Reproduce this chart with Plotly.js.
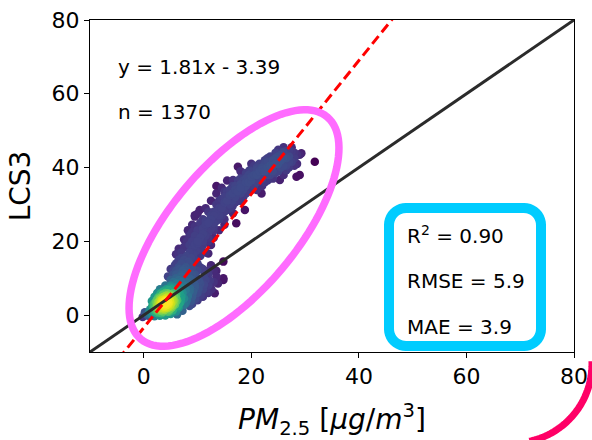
<!DOCTYPE html>
<html>
<head>
<meta charset="utf-8">
<script src="https://cdn.plot.ly/plotly-3.0.1.min.js"></script>
<style>html,body{margin:0;padding:0;background:#fff;}#chart{width:592px;height:440px;}</style>
</head>
<body>
<div id="chart"></div>
<script>
// Reference PM2.5 (x) and LCS3 (y) readings
const pmRef = [
 2.0,2.5,3.0,3.5,4.0,4.5,3.0,3.5,4.0,4.5,2.5,3.2,3.8,4.2,5.0,5.5,5.0,4.0,3.5,5.2,4.8,2.8,3.6,4.4,5.8,6.0,5.5,4.6,3.0,2.2,1.8,3.3,4.1,4.7,3.9,2.6,5.3,4.3,3.7,2.9,4.9,3.4,4.6,5.6,
 1.0,1.5,0.5,-0.2,0.2,1.2,1.6,2.0,2.4,1.0,0.8,2.0,3.0,4.0,5.0,6.0,6.5,6.8,7.0,6.5,6.0,5.0,4.0,3.0,2.5,2.0,1.5,6.2,7.2,7.5,
 3.1,3.9,4.3,2.7,3.5,4.1,4.8,5.1,3.3,2.4,
 3.1,3.4,3.7,4.0,4.3,4.6,4.9,5.1,3.6,3.2,2.9,2.6,2.3,2.7,3.9,4.5,5.0,5.4,5.7,5.2,4.7,4.1,3.5,3.8,4.3,4.8,4.4,3.9,3.3,2.8,
 3.0,3.6,4.2,4.7,5.3,5.6,4.0,3.4,4.6,5.0,4.1,3.5,3.0,2.6,4.9,4.4,3.8,5.9,6.2,6.0,
 2.1,1.7,1.3,0.9,2.4,3.3,4.7,5.4,6.3,6.6,6.9,6.7,5.8,5.2,4.2,3.6,3.1,2.7,2.3,1.9,
 5.0,5.5,6.0,6.5,7.0,7.5,8.0,8.5,9.0,9.5,10.0,6.0,7.0,8.0,9.0,10.0,7.0,8.0,9.0,6.5,7.0,7.5,8.0,8.5,9.0,9.5,10.0,11.0,11.0,11.5,12.0,10.5,9.5,8.5,7.5,6.2,5.8,6.0,6.5,7.5,8.2,4.5,5.0,10.5,11.0,11.5,12.0,12.5,13.0,12.5,10.0,9.5,10.4,6.4,9.5,
 6.0,6.5,7.0,7.5,6.0,5.5,5.0,6.8,7.5,8.0,8.5,7.8,7.2,6.6,8.3,8.8,9.2,9.8,7.0,6.0,5.5,9.0,9.5,10.0,10.5,7.8,8.6,9.5,10.3,11.2,6.2,7.2,
 13.0,13.5,14.0,14.5,15.0,15.5,16.0,16.5,17.0,17.5,18.0,18.5,19.0,19.5,20.0,20.5,21.0,21.5,22.0,22.5,23.0,23.5,24.0,24.5,25.0,25.5,26.0,26.5,27.0,27.5,28.0,28.5,29.0,29.3,
 13.5,14.5,15.0,16.0,16.6,17.0,18.0,19.0,20.0,21.0,22.0,23.0,24.0,25.3,26.5,28.4,29.0,24.7,27.5,22.5,21.9,18.8,17.2,14.0,13.0,12.0,11.5,12.5,13.5,15.5,16.6,19.7,22.8,25.9,18.0,20.0,17.5,31.8,
 15.0,16.5,18.0,19.0,21.0,23.0,24.5,26.0,27.0,25.0,26.0,27.5,
 10.5,11.0,11.5,12.0,12.5,13.0,13.5,14.0,14.5,15.0,15.5,16.0,16.5,17.0,17.5,18.0,18.5,19.0,19.5,20.0,20.5,21.0,21.5,22.0,22.5,23.0,23.5,24.0,24.5,25.0,25.5,26.0,26.5,27.0,27.5,28.0,
 12.0,12.5,13.0,13.5,14.0,14.5,15.0,15.5,16.0,16.5,17.0,17.5,18.0,18.5,19.0,19.5,20.0,20.5,21.0,21.5,22.0,22.5,23.0,23.5,24.0,24.5,25.0,25.5,26.0,26.5,27.0,28.0,28.5,
 11.0,11.5,10.5,10.0,9.5,9.0,8.5,9.0,8.8,12.0,13.0,14.0,15.0,
 8.0,9.0,10.0,11.0,12.0,13.0,8.5,9.5,10.5,11.5,9.0,10.0,11.0,12.0,13.2,13.8,14.8,14.8,12.0,10.0,8.0,7.0,7.5,8.5,13.0,11.0,12.5,13.5,14.8,
 9.2,10.2,11.2,12.3,9.6,10.6,11.6,8.2,7.8,8.8,12.6,13.5,12.2,11.4
];
const lcs3 = [
 1.0,1.5,2.0,2.5,3.0,3.5,3.0,4.0,4.5,5.0,2.5,1.2,1.8,2.2,3.0,4.0,5.0,6.0,5.5,2.0,1.5,0.8,0.9,1.0,2.8,4.5,6.0,6.8,4.6,2.2,1.8,3.3,3.8,4.2,2.6,3.4,3.5,5.4,3.2,2.4,2.6,1.6,2.9,3.2,
 0.5,0.2,0.3,-0.5,0.8,1.6,2.6,3.2,4.0,1.0,-0.2,-0.3,-0.2,-0.1,0.3,1.0,2.0,3.5,5.0,6.5,7.5,8.0,8.0,7.0,6.0,5.0,3.8,0.2,1.2,2.8,
 2.7,3.6,4.0,1.9,2.0,2.7,3.9,4.6,3.9,1.2,
 2.1,2.9,3.6,4.1,4.7,3.3,4.4,5.6,4.9,4.2,3.7,2.9,1.9,1.3,1.4,1.9,2.3,2.7,3.9,4.7,5.7,5.2,3.4,2.3,2.8,3.7,4.2,3.1,2.6,2.0,
 2.6,3.0,3.4,4.8,4.2,5.0,3.6,3.8,2.4,3.4,2.0,1.9,1.6,2.3,5.2,5.9,5.0,3.5,4.0,5.4,
 1.4,1.0,0.7,0.4,0.6,0.5,0.9,1.3,2.4,3.1,4.3,5.8,6.6,7.1,7.0,6.4,5.8,4.8,3.5,2.4,
 9.5,11.0,12.0,13.0,14.0,15.0,16.0,17.0,18.0,19.0,20.0,10.0,11.0,12.0,13.0,14.0,9.0,10.0,11.0,15.0,17.0,18.5,20.0,21.5,22.5,24.0,23.0,22.0,19.0,17.0,16.7,16.0,15.0,14.0,12.5,8.5,13.5,16.5,18.0,20.5,23.0,10.5,12.5,25.0,26.0,24.5,21.0,19.0,23.0,27.0,27.5,26.7,28.5,16.7,27.1,
 8.5,9.5,10.5,11.5,11.0,9.0,7.5,7.5,8.0,9.0,10.0,13.0,12.0,12.5,14.5,15.5,16.5,17.5,15.5,14.0,12.0,9.5,11.0,12.0,13.0,6.8,7.2,8.2,9.2,10.2,6.2,6.0,
 28.0,30.0,31.0,29.0,32.0,33.5,34.0,31.0,35.0,36.5,37.0,34.0,38.5,36.0,39.0,40.5,38.0,41.0,40.0,42.0,41.5,43.0,42.0,44.0,41.0,43.5,42.5,44.5,43.0,44.3,42.5,41.0,43.5,43.9,
 33.0,34.5,28.0,30.0,27.6,32.0,33.0,35.0,36.5,33.9,37.0,38.0,39.0,36.6,39.3,37.5,38.0,43.9,44.3,41.2,33.0,28.5,24.9,26.0,25.0,28.0,29.0,31.0,35.0,36.5,36.6,39.3,42.0,44.3,39.0,41.0,40.2,41.6,
 30.5,33.0,35.5,37.0,39.5,40.0,41.0,40.5,41.5,44.8,45.5,45.5,
 18.0,20.0,21.5,22.5,23.5,24.0,25.5,27.0,27.0,26.0,28.5,29.0,29.5,30.5,31.0,31.0,32.0,33.0,33.5,34.0,35.0,36.0,36.5,35.0,36.0,36.5,38.0,37.0,38.5,39.0,40.0,38.0,40.5,40.0,41.5,40.5,
 25.0,26.0,27.0,28.0,29.0,31.5,33.5,31.0,32.5,35.0,34.0,33.5,34.5,36.5,36.0,38.0,37.5,38.0,40.0,39.0,39.5,39.0,42.5,40.5,40.5,42.5,43.0,42.0,44.0,42.5,44.5,44.0,43.5,
 23.5,25.5,21.0,19.5,21.5,20.0,19.0,24.5,22.0,20.0,21.0,23.0,24.5,
 4.0,5.0,6.0,7.0,8.0,9.0,6.5,7.5,8.5,9.5,3.0,4.0,5.0,6.0,5.9,8.6,10.0,14.5,11.0,10.0,8.0,6.5,4.5,2.5,12.0,12.5,13.5,12.0,9.5,
 6.3,7.2,8.2,9.3,4.4,5.3,6.3,5.2,3.2,3.8,7.0,10.5,12.3,11.3
];
const tickVals = [0, 20, 40, 60, 80];
const fitSlope = 1.81, fitIntercept = -3.39;
const statLabels = ["R<sup>2</sup> = 0.90", "RMSE = 5.9", "MAE = 3.9"];
const fitLabels = ["y = 1.81x - 3.39", "n = 1370"];

// Gaussian density of each point (like gaussian_kde colouring)
const n = Math.min(pmRef.length, lcs3.length);
const dens = [];
for (let i = 0; i < n; i++) {
  let s = 0;
  for (let j = 0; j < n; j++) {
    const dx = (pmRef[i] - pmRef[j]) / 1.8, dy = (lcs3[i] - lcs3[j]) / 2.5;
    s += Math.exp(-0.5 * (dx * dx + dy * dy));
  }
  dens.push(s);
}
const order = [...Array(n).keys()].sort((a, b) => dens[a] - dens[b]);
const xs = order.map(i => pmRef[i]), ys = order.map(i => lcs3[i]), cs = order.map(i => dens[i]);

const xr = [-10, 80], yr = [-10, 80];
// pixel -> paper helpers for decorative shapes
const L = 90, R = 18, T = 20, B = 88, W = 592, H = 440;
const pw = W - L - R, ph = H - T - B;
const px = v => ((v - L) / pw).toFixed(5);
const py = v => ((H - B - v) / ph).toFixed(5);

function ellipsePath(cx, cy, a, b, deg) {
  const th = deg * Math.PI / 180; let p = "";
  for (let k = 0; k <= 120; k++) {
    const t = 2 * Math.PI * k / 120;
    const X = cx + a * Math.cos(t) * Math.cos(th) - b * Math.sin(t) * Math.sin(th);
    const Y = cy - (a * Math.cos(t) * Math.sin(th) + b * Math.sin(t) * Math.cos(th));
    p += (k ? " L " : "M ") + px(X) + " " + py(Y);
  }
  return p + " Z";
}
function roundRect(x0, y0, x1, y1, r) {
  let p = ""; const seg = 10;
  const corners = [[x1 - r, y0 + r, -90, 0], [x1 - r, y1 - r, 0, 90], [x0 + r, y1 - r, 90, 180], [x0 + r, y0 + r, 180, 270]];
  corners.forEach(c => {
    for (let k = 0; k <= seg; k++) {
      const ang = (c[2] + (c[3] - c[2]) * k / seg) * Math.PI / 180;
      p += (p ? " L " : "M ") + px(c[0] + r * Math.cos(ang)) + " " + py(c[1] + r * Math.sin(ang));
    }
  });
  return p + " Z";
}
function arcPath(cx, cy, r, a0, a1) {
  let p = "";
  for (let k = 0; k <= 60; k++) {
    const ang = (a0 + (a1 - a0) * k / 60) * Math.PI / 180;
    p += (k ? " L " : "M ") + px(cx + r * Math.cos(ang)) + " " + py(cy + r * Math.sin(ang));
  }
  return p;
}

const font = "DejaVu Sans, sans-serif";
const traces = [
  {type: "scatter", mode: "markers", x: xs, y: ys,
   marker: {size: 8.5, color: cs, colorscale: "Viridis", line: {width: 0}}, showlegend: false, hoverinfo: "skip"},
  {type: "scatter", mode: "lines", x: xr, y: yr, line: {color: "#2b2b2b", width: 3}, showlegend: false, hoverinfo: "skip"},
  {type: "scatter", mode: "lines", x: xr, y: xr.map(v => fitSlope * v + fitIntercept),
   line: {color: "#ff0000", width: 3, dash: "10px,5px"}, showlegend: false, hoverinfo: "skip"}
];
const axisBase = {range: [-10, 80], tickvals: tickVals, ticks: "outside", ticklen: 5, tickwidth: 1, tickcolor: "#000",
  showline: true, linecolor: "#000", linewidth: 1, mirror: true, showgrid: false, zeroline: false,
  tickfont: {family: font, size: 22, color: "#000"}};
const layout = {
  width: W, height: H, margin: {l: L, r: R, t: T, b: B},
  paper_bgcolor: "#fff", plot_bgcolor: "#fff", showlegend: false,
  xaxis: Object.assign({}, axisBase, {title: {text: "<i>PM</i><sub>2.5</sub> [<i>μg</i>/<i>m</i><sup>3</sup>]", font: {family: font, size: 28, color: "#000"}, standoff: 42}}),
  yaxis: Object.assign({}, axisBase, {title: {text: "LCS3", font: {family: font, size: 28, color: "#000"}, standoff: 12}}),
  shapes: [
    {type: "path", xref: "paper", yref: "paper", path: ellipsePath(234, 228, 145, 63, 50), line: {color: "#ff6bff", width: 7.5}, layer: "above"},
    {type: "path", xref: "paper", yref: "paper", path: roundRect(389, 208, 541, 346, 17), line: {color: "#00ccff", width: 10}, fillcolor: "rgba(0,0,0,0)", layer: "above"},
    {type: "path", xref: "paper", yref: "paper", path: arcPath(513, 364, 79, -2, 78), line: {color: "#ff0066", width: 7}, layer: "above"}
  ],
  annotations: [
    {xref: "paper", yref: "paper", x: px(116), y: py(67), text: fitLabels[0], xanchor: "left", yanchor: "middle", showarrow: false, font: {family: font, size: 20, color: "#000"}},
    {xref: "paper", yref: "paper", x: px(116), y: py(112), text: fitLabels[1], xanchor: "left", yanchor: "middle", showarrow: false, font: {family: font, size: 20, color: "#000"}},
    {xref: "paper", yref: "paper", x: px(405), y: py(235), text: statLabels[0], xanchor: "left", yanchor: "middle", showarrow: false, font: {family: font, size: 20, color: "#000"}},
    {xref: "paper", yref: "paper", x: px(405), y: py(281), text: statLabels[1], xanchor: "left", yanchor: "middle", showarrow: false, font: {family: font, size: 20, color: "#000"}},
    {xref: "paper", yref: "paper", x: px(405), y: py(327), text: statLabels[2], xanchor: "left", yanchor: "middle", showarrow: false, font: {family: font, size: 20, color: "#000"}}
  ]
};
Plotly.newPlot("chart", traces, layout, {staticPlot: true, displayModeBar: false});
</script>
</body>
</html>
